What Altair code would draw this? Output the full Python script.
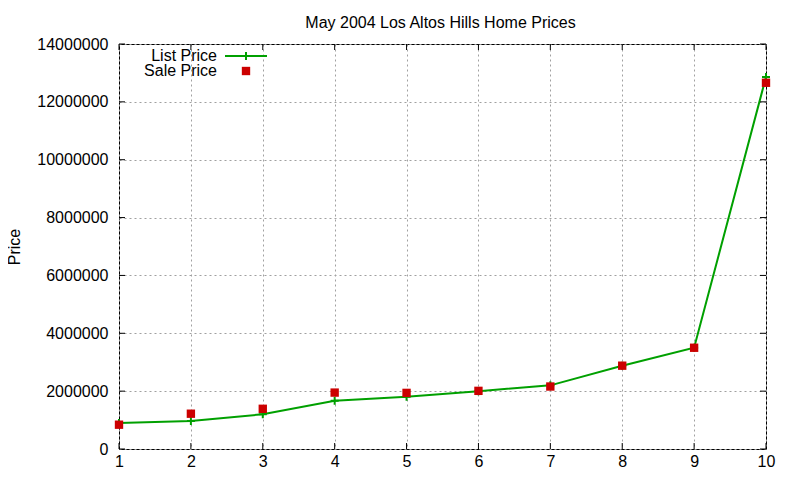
import altair as alt
import pandas as pd

# house number within the listing, 1..10
house = [1, 2, 3, 4, 5, 6, 7, 8, 9, 10]
list_price = [900000, 970000, 1200000, 1670000, 1810000, 2000000, 2200000, 2880000, 3500000, 12860000]
sale_price = [840000, 1220000, 1390000, 1950000, 1940000, 2010000, 2160000, 2880000, 3500000, 12660000]

x_ticks = [1, 2, 3, 4, 5, 6, 7, 8, 9, 10]
y_ticks = [0, 2000000, 4000000, 6000000, 8000000, 10000000, 12000000, 14000000]

TITLE = "May 2004 Los Altos Hills Home Prices"

W, H = 647, 405
FONT = "Liberation Sans"
FS = 16
GREEN = "#00a000"
RED = "#cc0000"
CROSS = "M-1,0H1M0,-1V1"

df = pd.DataFrame({"house": house, "list": list_price, "sale": sale_price})
xt = pd.DataFrame({"v": x_ticks})
yt = pd.DataFrame({"v": y_ticks})

x_scale = alt.Scale(domain=[1, 10], nice=False, zero=False)
y_scale = alt.Scale(domain=[0, 14000000], nice=False)

x_enc = alt.X(
    "house:Q", scale=x_scale, title=None,
    axis=alt.Axis(values=x_ticks, format="d", ticks=False, domain=False, labelPadding=4,
                  labelFlush=False, labelOverlap=False,
                  grid=True, gridColor="#a0a0a0", gridDash=[2, 3], gridOpacity=1),
)
y_enc = alt.Y(
    "list:Q", scale=y_scale, title="Price",
    axis=alt.Axis(values=y_ticks, format="d", ticks=False, domain=False, labelPadding=11,
                  labelFlush=False, labelOverlap=False,
                  grid=True, gridColor="#a0a0a0", gridDash=[2, 3], gridOpacity=1,
                  titleX=-105, titleY=H / 2, titleAngle=270, titleBaseline="middle",
                  titleAlign="center", titleFontWeight="normal", titleFontSize=FS),
)

base = alt.Chart(df)
line = base.mark_line(color=GREEN, strokeWidth=2).encode(x=x_enc, y=y_enc)
cross = base.mark_point(shape=CROSS, filled=False, stroke=GREEN, strokeWidth=2, size=64, opacity=1).encode(
    x=alt.X("house:Q", scale=x_scale), y=alt.Y("list:Q", scale=y_scale))
squares = base.mark_square(color=RED, size=70, opacity=1).encode(
    x=alt.X("house:Q", scale=x_scale), y=alt.Y("sale:Q", scale=y_scale))

# inward tick marks on all four sides
tk = 6
bottom_t = alt.Chart(xt).mark_rule(color="black").encode(
    x=alt.X("v:Q", scale=x_scale), y=alt.value(H), y2=alt.value(H - tk))
top_t = alt.Chart(xt).mark_rule(color="black").encode(
    x=alt.X("v:Q", scale=x_scale), y=alt.value(0), y2=alt.value(tk))
left_t = alt.Chart(yt).mark_rule(color="black").encode(
    y=alt.Y("v:Q", scale=y_scale), x=alt.value(0), x2=alt.value(tk))
right_t = alt.Chart(yt).mark_rule(color="black").encode(
    y=alt.Y("v:Q", scale=y_scale), x=alt.value(W), x2=alt.value(W - tk))

# chart title as a text mark above the frame
title = alt.Chart(pd.DataFrame({"t": [TITLE]})).mark_text(
    align="center", baseline="alphabetic", font=FONT, fontSize=FS, color="black").encode(
    text="t:N", x=alt.value(W / 2 - 2), y=alt.value(-16))

# legend, gnuplot style (label left, sample right)
leg = pd.DataFrame({"label": ["List Price", "Sale Price"]})
leg_list_txt = alt.Chart(leg.iloc[[0]]).mark_text(align="right", baseline="middle", font=FONT, fontSize=FS).encode(
    text="label:N", x=alt.value(98), y=alt.value(12))
leg_sale_txt = alt.Chart(leg.iloc[[1]]).mark_text(align="right", baseline="middle", font=FONT, fontSize=FS).encode(
    text="label:N", x=alt.value(98), y=alt.value(27))
leg_line = alt.Chart(leg.iloc[[0]]).mark_rule(color=GREEN, strokeWidth=2).encode(
    x=alt.value(106), x2=alt.value(148), y=alt.value(12))
leg_cross = alt.Chart(leg.iloc[[0]]).mark_point(shape=CROSS, filled=False, stroke=GREEN, strokeWidth=2, size=64, opacity=1).encode(
    x=alt.value(127), y=alt.value(12))
leg_sq = alt.Chart(leg.iloc[[1]]).mark_square(color=RED, size=70, opacity=1).encode(
    x=alt.value(127), y=alt.value(27))

chart = alt.layer(
    line, cross, squares, bottom_t, top_t, left_t, right_t, title,
    leg_list_txt, leg_sale_txt, leg_line, leg_cross, leg_sq,
).properties(
    width=W, height=H,
    autosize=alt.AutoSizeParams(type="none"),
    padding={"left": 111, "top": 36, "right": 26, "bottom": 24},
).configure_view(
    stroke="black", strokeWidth=1,
).configure_axis(
    labelFont=FONT, labelFontSize=FS, labelColor="black", titleFont=FONT, titleColor="black",
)

chart.save("out.html", embed_options={"renderer": "svg", "actions": False})
